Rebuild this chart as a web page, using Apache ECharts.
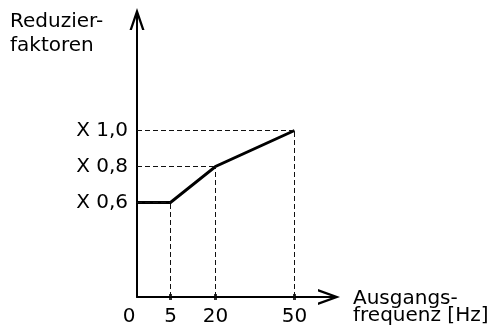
<!DOCTYPE html>
<html><head><meta charset="utf-8">
<script src="https://cdn.jsdelivr.net/npm/echarts@6/dist/echarts.min.js"></script>
<style>html,body{margin:0;padding:0;background:#fff}#c{width:496px;height:329px}</style>
</head><body><div id="c"></div>
<script>
// ---- data ----
const freqTicks = [0, 5, 20, 50];
const factorTicks = [0.6, 0.8, 1.0];
const curveFreq = [0, 5, 20, 50];
const curveFactor = [0.6, 0.6, 0.8, 1.0];
const yAxisTitle = 'Reduzier-\nfaktoren';
const xAxisTitle = 'Ausgangs-\nfrequenz [Hz]';

// ---- schematic (non-proportional) frequency scale ----
const X_STOPS = [0, 5, 20, 50];
const X_UNITS = [0, 33.5, 78.5, 157.5];
const X_MAX = 192;
const Y_MIN = 0.075, Y_MAX = 1.6194;
function interp(v, from, to) {
  for (let i = 1; i < from.length; i++) {
    if (v <= from[i] || i === from.length - 1) {
      const t = (v - from[i - 1]) / (from[i] - from[i - 1]);
      return to[i - 1] + t * (to[i] - to[i - 1]);
    }
  }
  return to[0];
}
const toAxis = f => interp(f, X_STOPS, X_UNITS);
const fromAxis = u => interp(u, X_UNITS, X_STOPS);

const FONT = 'DejaVu Sans';
const yArrow = 'path://M37.5 0 L75 110 L63 110 L42.5 49.9 L42.5 110 L32.5 110 L32.5 49.9 L12 110 L0 110 Z';
const xArrow = 'path://M40 0 L80 110 L68 110 L45 46.75 L45 110 L35 110 L35 46.75 L12 110 L0 110 Z';

const guideLines = [];
for (let i = 1; i < curveFreq.length; i++) {
  const x = toAxis(curveFreq[i]), y = curveFactor[i];
  guideLines.push([{ coord: [x, Y_MIN] }, { coord: [x, y] }]);
  guideLines.push([{ coord: [0, y] }, { coord: [x, y] }]);
}

const chart = echarts.init(document.getElementById('c'), null, { renderer: 'canvas' });
chart.setOption({
  animation: false,
  backgroundColor: '#fff',
  title: [
    {
      text: yAxisTitle, left: 10, top: 10, padding: 0,
      textStyle: { fontFamily: FONT, fontSize: 20, lineHeight: 24, fontWeight: 'normal', color: '#000' }
    },
    {
      text: xAxisTitle, left: 353, top: 290, padding: 0,
      textStyle: { fontFamily: FONT, fontSize: 20, lineHeight: 17, fontWeight: 'normal', color: '#000' }
    }
  ],
  grid: { left: 137, right: 167, top: 19, bottom: 32 },
  xAxis: {
    type: 'value', min: 0, max: X_MAX,
    axisLine: { show: true, lineStyle: { color: '#000', width: 2 }, symbol: ['none', xArrow], symbolSize: [16, 22] },
    axisTick: { show: false },
    splitLine: { show: false },
    axisLabel: {
      customValues: freqTicks.map(toAxis),
      margin: 10, fontFamily: FONT, fontSize: 20, color: '#000',
      formatter: v => { const f = Math.round(fromAxis(v)); return f === 0 ? '{o|0}' : String(f); },
      rich: { o: { fontFamily: FONT, fontSize: 20, color: '#000', padding: [0, 16, 0, 0] } }
    }
  },
  yAxis: {
    type: 'value', min: Y_MIN, max: Y_MAX,
    axisLine: { show: true, lineStyle: { color: '#000', width: 2 }, symbol: ['none', yArrow], symbolSize: [15, 22] },
    axisTick: { show: false },
    splitLine: { show: false },
    axisLabel: {
      customValues: factorTicks,
      margin: 9, fontFamily: FONT, fontSize: 20, color: '#000',
      formatter: v => 'X ' + Number(v).toFixed(1).replace('.', ',')
    }
  },
  series: [
    {
      type: 'line',
      data: curveFreq.map((f, i) => [toAxis(f), curveFactor[i]]),
      symbol: 'none',
      lineStyle: { color: '#000', width: 3, join: 'miter' },
      z: 3,
      markLine: {
        silent: true, symbol: ['none', 'none'], label: { show: false },
        lineStyle: { type: [5, 3], width: 1, color: '#111' },
        emphasis: { disabled: true },
        data: guideLines
      }
    },
    {
      type: 'scatter',
      data: freqTicks.filter(f => f > 0).map(f => [toAxis(f), Y_MIN]),
      symbol: 'rect', symbolSize: [3, 6],
      itemStyle: { color: '#000' },
      clip: false, silent: true, z: 4
    }
  ]
});
</script>
</body></html>
